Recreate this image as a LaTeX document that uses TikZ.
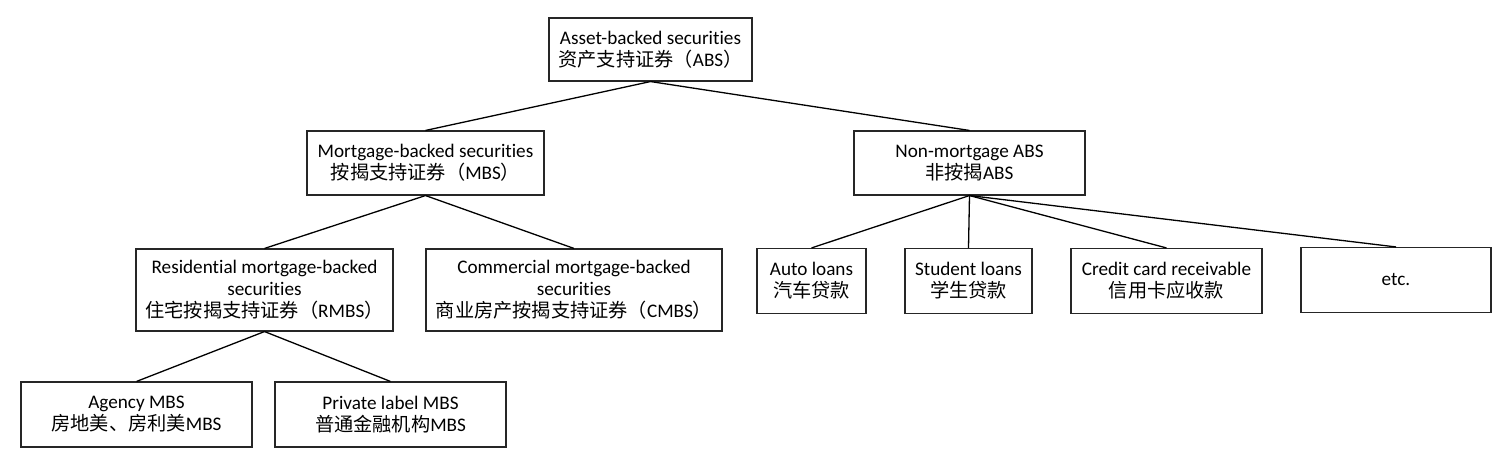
\documentclass[tikz,border=0pt]{standalone}
\usepackage{fontspec}
\setmainfont[RawFeature=-liga]{Carlito}
\newfontfamily\cjk{Noto Sans CJK SC}
\newcommand{\zh}[1]{{\cjk #1}}
\begin{document}
\begin{tikzpicture}[x=1pt,y=-1pt,
  box/.style={draw=black!85, line width=1.1pt, inner sep=0pt, align=center,
    font=\fontsize{19.2}{22}\selectfont},
  link/.style={line width=1.3pt, black}]
\useasboundingbox (0,0) rectangle (1500,463);
\node[box, minimum width=203pt, minimum height=63pt] (top) at (650.5,49.5)
  {Asset-backed securities\\\zh{资产支持证券（}ABS\zh{）}};
\node[box, minimum width=237pt, minimum height=64pt] (mbs) at (425.5,163)
  {Mortgage-backed securities\\\zh{按揭支持证券（}MBS\zh{）}};
\node[box, minimum width=231pt, minimum height=64pt] (non) at (969.5,163)
  {Non-mortgage ABS\\\zh{非按揭}ABS};
\node[box, minimum width=257pt, minimum height=82pt] (rmbs) at (264.5,290)
  {Residential mortgage-backed\\securities\\\zh{住宅按揭支持证券（}RMBS\zh{）}};
\node[box, minimum width=296pt, minimum height=82pt] (cmbs) at (574,290)
  {Commercial mortgage-backed\\securities\\\zh{商业房产按揭支持证券（}CMBS\zh{）}};
\node[box, minimum width=109pt, minimum height=65pt] (auto) at (811.5,281)
  {Auto loans\\\zh{汽车贷款}};
\node[box, minimum width=127pt, minimum height=65pt] (student) at (968.5,281)
  {Student loans\\\zh{学生贷款}};
\node[box, minimum width=191pt, minimum height=65pt] (credit) at (1166.5,281)
  {Credit card receivable\\\zh{信用卡应收款}};
\node[box, minimum width=190pt, minimum height=65pt] (etc) at (1396,280)
  {etc.};
\node[box, minimum width=231pt, minimum height=65pt] (agency) at (136.5,414.5)
  {Agency MBS\\\zh{房地美、房利美}MBS};
\node[box, minimum width=231pt, minimum height=65pt] (private) at (390.5,414.5)
  {Private label MBS\\\zh{普通金融机构}MBS};
\draw[link] (top.south) -- (mbs.north);
\draw[link] (top.south) -- (non.north);
\draw[link] (mbs.south) -- (rmbs.north);
\draw[link] (mbs.south) -- (cmbs.north);
\draw[link] (rmbs.south) -- (agency.north);
\draw[link] (rmbs.south) -- (private.north);
\draw[link] (non.south) -- (auto.north);
\draw[link] (non.south) -- (student.north);
\draw[link] (non.south) -- (credit.north);
\draw[link] (non.south) -- (etc.north);
\end{tikzpicture}
\end{document}
